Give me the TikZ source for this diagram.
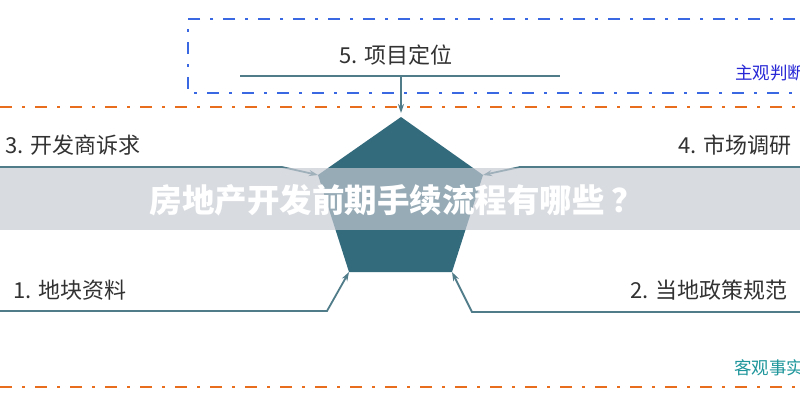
\documentclass[tikz,border=0pt]{standalone}
\usepackage{fontspec}
\setmainfont{Noto Sans CJK SC}
\usetikzlibrary{arrows.meta}
\definecolor{pent}{RGB}{51,107,125}
\definecolor{conn}{RGB}{80,124,138}
\definecolor{bluedash}{RGB}{58,104,226}
\definecolor{orangedash}{RGB}{232,110,30}
\definecolor{txt}{RGB}{50,50,50}
\definecolor{subj}{RGB}{40,40,215}
\definecolor{obj}{RGB}{30,150,155}
\definecolor{band}{RGB}{198,202,210}
\tikzset{
  lbl/.style={inner sep=0pt, text=txt, font=\fontsize{22}{24}\selectfont},
  side/.style={inner sep=0pt, font=\fontsize{17.5}{19}\selectfont},
  connector/.style={draw=conn, line width=1.8pt, -{Stealth[length=9pt,width=6pt]}},
  dashdotline/.style={line width=2.6pt, dash pattern=on 12pt off 10pt on 3pt off 10pt},
}
\begin{document}
\begin{tikzpicture}[x=1pt,y=-1pt]
\useasboundingbox (0,0) rectangle (800,400);
\clip (0,0) rectangle (800,400);
\fill[white] (0,0) rectangle (800,400);

% dash-dot frames
\draw[dashdotline, draw=bluedash] (830,19) -- (188,19) -- (188,93) -- (830,93);
\draw[dashdotline, draw=orangedash] (0,107) -- (830,107);
\draw[dashdotline, draw=orangedash] (0,387) -- (830,387);

% pentagon
\coordinate (pa) at (401,117);
\coordinate (pl) at (318,175);
\coordinate (pr) at (483,175);
\coordinate (pbl) at (349,272);
\coordinate (pbr) at (452,272);
\fill[pent] (pa) -- (pr) -- (pbr) -- (pbl) -- (pl) -- cycle;

% labels
\node[lbl] (t5) at (396,55) {5. 项目定位};
\node[lbl, anchor=west] (t3) at (5,145) {3. 开发商诉求};
\node[lbl, anchor=west] (t1) at (13,290) {1. 地块资料};
\node[lbl, anchor=west] (t4) at (678,145) {4. 市场调研};
\node[lbl, anchor=west] (t2) at (630,290) {2. 当地政策规范};
\node[side, anchor=west, text=subj] (s1) at (735,73) {主观判断};
\node[side, anchor=west, text=obj] (s2) at (734,368) {客观事实};

% top connector
\coordinate (u1) at (240,76);
\coordinate (u2) at (560,76);
\coordinate (um) at (401,76);
\coordinate (atip) at (401,113);
\draw[draw=conn, line width=1.8pt] (u1) -- (u2);
\draw[connector] (um) -- (atip);

% left connectors
\coordinate (l3s) at (0,167);
\coordinate (l3b) at (282,167);
\draw[connector] (l3s) -- (l3b) -- (pl);
\coordinate (l1s) at (0,311);
\coordinate (l1b) at (327,311);
\draw[connector] (l1s) -- (l1b) -- (pbl);

% right connectors
\coordinate (r4s) at (800,167);
\coordinate (r4b) at (520,167);
\draw[connector] (r4s) -- (r4b) -- (pr);
\coordinate (r2s) at (800,312);
\coordinate (r2b) at (472,312);
\draw[connector] (r2s) -- (r2b) -- (pbr);

% banner
\fill[band, fill opacity=0.68] (0,168) rectangle (800,230);
\node[inner sep=0pt, text=white, font=\fontsize{32.5}{34}\selectfont\bfseries] (title) at (397,200) {房地产开发前期手续流程有哪些\hspace{7pt}？};
\end{tikzpicture}
\end{document}
